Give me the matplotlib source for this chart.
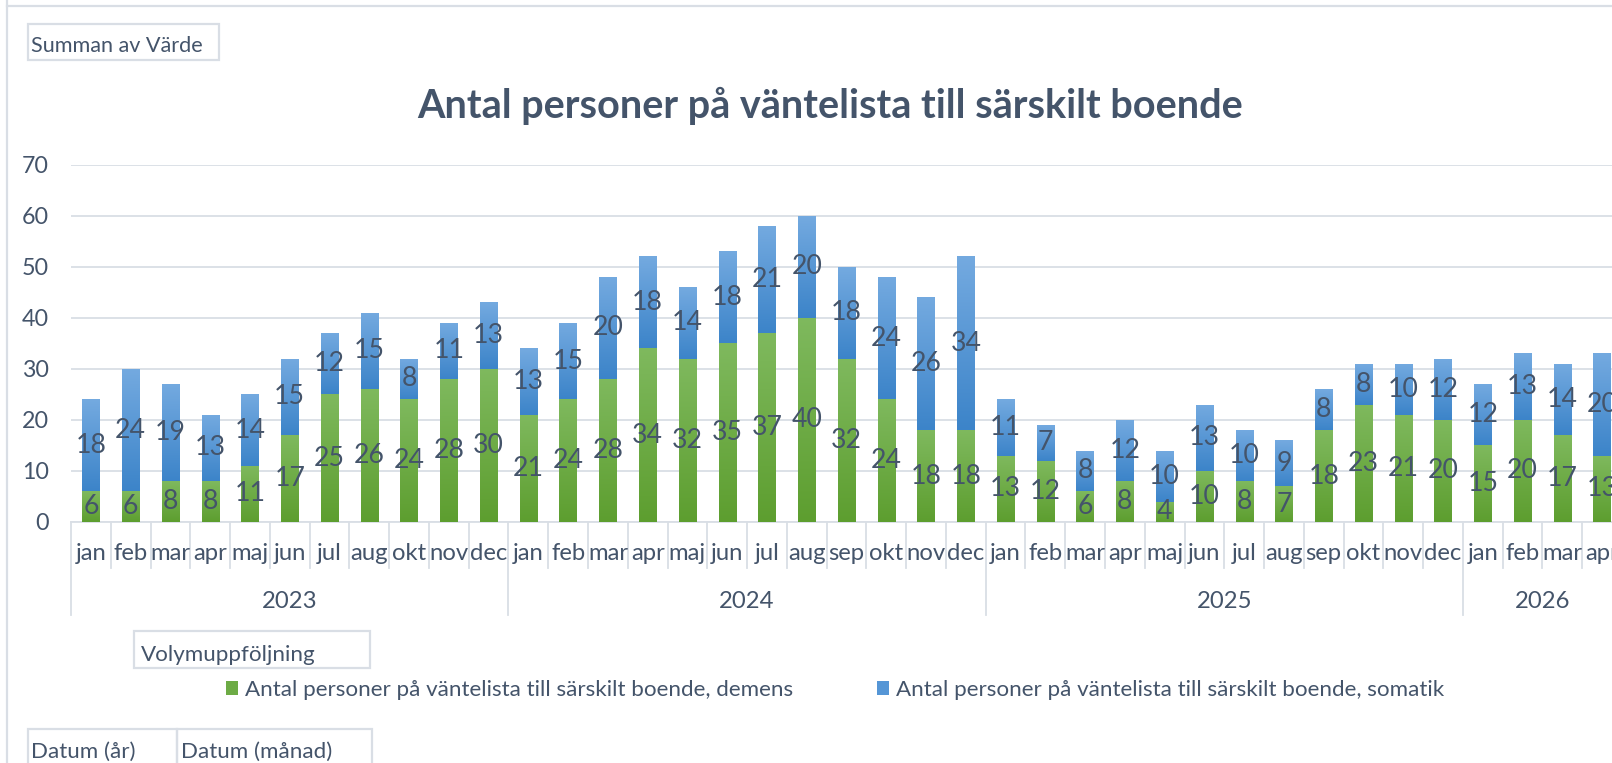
import numpy as np
import matplotlib
matplotlib.use('Agg')
import matplotlib.pyplot as plt
from matplotlib.colors import LinearSegmentedColormap
from matplotlib.patches import Rectangle
from matplotlib.lines import Line2D
import matplotlib.transforms as mtransforms

# ---------------- data ----------------
years = ['2023', '2024', '2025', '2026']
months_2023 = ['jan', 'feb', 'mar', 'apr', 'maj', 'jun', 'jul', 'aug', 'okt', 'nov', 'dec']
months_2024 = ['jan', 'feb', 'mar', 'apr', 'maj', 'jun', 'jul', 'aug', 'sep', 'okt', 'nov', 'dec']
months_2025 = ['jan', 'feb', 'mar', 'apr', 'maj', 'jun', 'jul', 'aug', 'sep', 'okt', 'nov', 'dec']
months_2026 = ['jan', 'feb', 'mar', 'apr']

demens_2023 = [6, 6, 8, 8, 11, 17, 25, 26, 24, 28, 30]
demens_2024 = [21, 24, 28, 34, 32, 35, 37, 40, 32, 24, 18, 18]
demens_2025 = [13, 12, 6, 8, 4, 10, 8, 7, 18, 23, 21, 20]
demens_2026 = [15, 20, 17, 13]

somatik_2023 = [18, 24, 19, 13, 14, 15, 12, 15, 8, 11, 13]
somatik_2024 = [13, 15, 20, 18, 14, 18, 21, 20, 18, 24, 26, 34]
somatik_2025 = [11, 7, 8, 12, 10, 13, 10, 9, 8, 8, 10, 12]
somatik_2026 = [12, 13, 14, 20]

series_demens = 'Antal personer på väntelista till särskilt boende, demens'
series_somatik = 'Antal personer på väntelista till särskilt boende, somatik'
title = 'Antal personer på väntelista till särskilt boende'
y_ticks = [0, 10, 20, 30, 40, 50, 60, 70]

# ---------------- assemble ----------------
month_groups = [months_2023, months_2024, months_2025, months_2026]
months = sum(month_groups, [])
demens = np.array(demens_2023 + demens_2024 + demens_2025 + demens_2026)
somatik = np.array(somatik_2023 + somatik_2024 + somatik_2025 + somatik_2026)
x = np.arange(len(months))

# ---------------- style ----------------
W, H, DPI = 1612, 763, 100
FONT = ['Lato', 'DejaVu Sans']
TXT = '#44546a'
LINE = '#d9dee5'
plt.rcParams['font.family'] = FONT

fig = plt.figure(figsize=(W / DPI, H / DPI), dpi=DPI)
fig.patch.set_facecolor('white')
renderer = fig.canvas.get_renderer()


def fx(px):
    return px / W


def fy(py):
    return 1 - py / H


def fit_size(text, target_px, weight='normal', ref=20.0):
    t = fig.text(0, 0, text, fontsize=ref, fontweight=weight)
    w = t.get_window_extent(renderer).width
    t.remove()
    return ref * target_px / w


base_fs = fit_size(series_demens, 547)
title_fs = fit_size(title, 825, 'bold')
cat_fs = fit_size('dec', 33.5) * 1.12
lab_fs = base_fs * 1.19
tick_fs = base_fs * 1.04
pt2px = DPI / 72.0

# axes geometry
ax_left, ax_bottom_px, ax_top_px = 71, 522, 164.5
step_px = 39.77
ax = fig.add_axes([fx(ax_left), fy(ax_bottom_px), fx(W - ax_left), (ax_bottom_px - ax_top_px) / H])
xmax = -0.5 + (W - ax_left) / step_px

green = LinearSegmentedColormap.from_list('g', ['#7fb95e', '#5d9e2f'])
blue = LinearSegmentedColormap.from_list('b', ['#74aae0', '#3c84c9'])

bw = 0.435
c1 = ax.bar(x, demens, width=bw, color='#6dab45', label=series_demens, zorder=3)
c2 = ax.bar(x, somatik, width=bw, bottom=demens, color='#5596d6', label=series_somatik, zorder=3)

grad = np.linspace(0, 1, 256).reshape(-1, 1)
for cont, cmap in ((c1, green), (c2, blue)):
    for p in cont.patches:
        x0, y0 = p.get_x(), p.get_y()
        im = ax.imshow(grad, extent=(x0, x0 + p.get_width(), y0, y0 + p.get_height()),
                       cmap=cmap, aspect='auto', interpolation='bilinear', zorder=3.5)
        im.set_clip_path(p)

ax.bar_label(c1, label_type='center', color=TXT, fontsize=lab_fs, zorder=5)
ax.bar_label(c2, label_type='center', color=TXT, fontsize=lab_fs, zorder=5)

ax.set_xlim(-0.5, xmax)
ax.set_ylim(0, 70)
ax.set_aspect('auto')
ax.set_yticks(y_ticks)
ax.set_xticks([])
ax.tick_params(axis='y', length=0, pad=16, labelsize=tick_fs, labelcolor=TXT)
ax.grid(axis='y', color=LINE, lw=1.3, zorder=0)
for s in ('top', 'right', 'left'):
    ax.spines[s].set_visible(False)
ax.spines['bottom'].set_color(LINE)
ax.spines['bottom'].set_linewidth(1.3)
ax.set_facecolor('none')

# category axis (multi-level)
tr = mtransforms.blended_transform_factory(ax.transData, fig.transFigure)
for i, m in enumerate(months):
    ax.text(i, fy(553), m, transform=tr, ha='center', va='center', color=TXT,
            fontsize=cat_fs, clip_on=False)
start = 0
bounds = [-0.5]
for yr, grp in zip(years, month_groups):
    n = len(grp)
    ax.text(start + (n - 1) / 2, fy(602), yr, transform=tr, ha='center', va='center',
            color=TXT, fontsize=cat_fs, clip_on=False)
    start += n
    bounds.append(start - 0.5)
for i in range(len(months) + 1):
    b = i - 0.5
    bottom = 615 if b in bounds else 568
    ax.add_line(Line2D([b, b], [fy(522), fy(bottom)], transform=tr, color=LINE, lw=1.3,
                       clip_on=False))

# title
fig.text(fx(830), fy(106), title, ha='center', va='center', fontsize=title_fs,
         fontweight='bold', color=TXT)

# legend
sq = 12 / (base_fs * pt2px)
fig.legend(handles=[c1, c2], labels=[series_demens, series_somatik], loc='center left',
           bbox_to_anchor=(fx(226), fy(690)), ncol=2, frameon=False, fontsize=base_fs,
           labelcolor=TXT, handlelength=sq, handleheight=sq,
           handletextpad=7 / (base_fs * pt2px), columnspacing=84 / (base_fs * pt2px),
           borderpad=0, borderaxespad=0)


# pivot field buttons
def box(x0, y0, x1, y1):
    fig.patches.append(Rectangle((fx(x0), fy(y1)), fx(x1 - x0), (y1 - y0) / H,
                                 transform=fig.transFigure, fill=False, ec=LINE, lw=1.6))


box(28, 24, 219, 60)
fig.text(fx(31), fy(46), 'Summan av Värde', ha='left', va='center', fontsize=base_fs * 0.97, color=TXT)
box(134, 631, 370, 668)
fig.text(fx(141), fy(655), 'Volymuppföljning', ha='left', va='center', fontsize=base_fs, color=TXT)
box(28, 729, 177, 770)
box(177, 729, 372, 770)
fig.text(fx(31), fy(752), 'Datum (år)', ha='left', va='center', fontsize=base_fs, color=TXT)
fig.text(fx(181), fy(752), 'Datum (månad)', ha='left', va='center', fontsize=base_fs, color=TXT)

# outer chart frame
fig.add_artist(Line2D([fx(7), fx(7)], [fy(0), fy(763)], transform=fig.transFigure, color=LINE, lw=1.6))
fig.add_artist(Line2D([fx(7), fx(1612)], [fy(6), fy(6)], transform=fig.transFigure, color=LINE, lw=1.6))

fig.savefig('out.png', dpi=DPI)
